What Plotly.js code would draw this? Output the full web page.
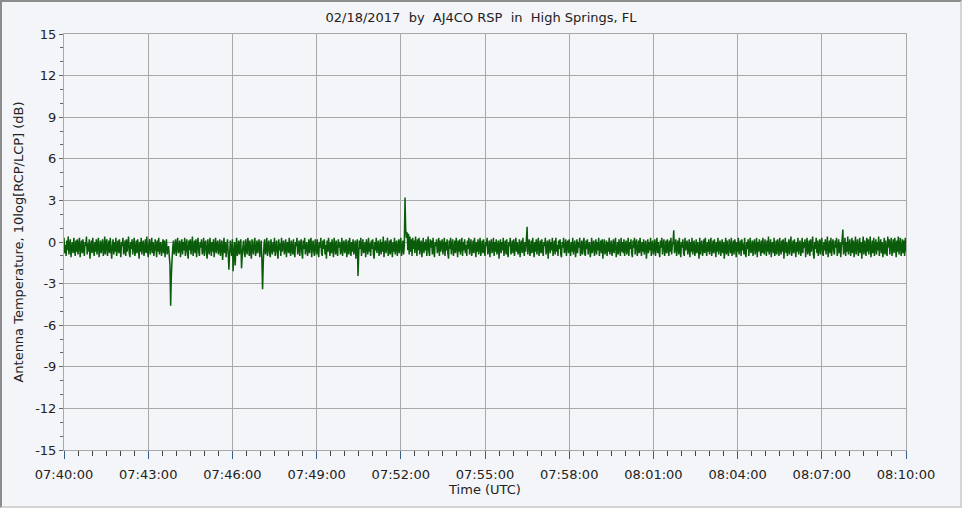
<!DOCTYPE html>
<html>
<head>
<meta charset="utf-8">
<script src="https://cdn.plot.ly/plotly-3.0.1.min.js"></script>
<style>
html,body{margin:0;padding:0;background:#f4f5f8;}
#wrap{position:relative;width:962px;height:508px;overflow:hidden;}
#chart{position:absolute;left:0;top:0;width:962px;height:508px;}
#frame{position:absolute;left:0;top:0;width:962px;height:508px;box-sizing:border-box;border-left:2px solid #8c8c8c;border-top:2px solid #8c8c8c;border-right:2px solid #d4d4d4;border-bottom:2px solid #d4d4d4;pointer-events:none;}
</style>
</head>
<body>
<div id="wrap"><div id="chart"></div><div id="frame"></div></div>
<script>
// Sampling: one reading every 1.5 seconds from 07:40:00 UTC
const sampleMs = 1500;

// Antenna temperature ratio, 10log[RCP/LCP] (dB)
const ratioDb = [
 0.3,-0.8,-0.2,-1.0,0.1,-0.6,0.4,-0.9,-0.3,0.2,-1.1,-0.4,0.0,-0.8,0.3,-0.5,-1.0,0.1,-0.7,0.2,
 -0.9,-0.2,0.3,-1.1,-0.4,0.1,-0.8,0.2,-0.6,-1.0,0.0,-0.3,0.4,-0.9,-0.1,-0.7,0.2,-1.2,-0.4,0.1,
 -0.8,0.3,-0.5,-1.0,0.0,-0.7,0.2,-0.9,-0.2,0.3,-1.1,-0.5,0.1,-0.8,-0.3,0.2,-1.0,-0.6,0.4,-0.9,
 -0.1,0.2,-1.0,-0.4,0.1,-0.8,0.3,-0.6,-1.2,-0.2,0.2,-0.9,0.0,-0.7,0.3,-1.0,-0.4,0.1,-0.8,0.2,
 -0.5,-1.1,0.0,-0.3,0.3,-0.9,-0.6,0.1,-1.0,0.2,-0.7,-0.2,0.4,-0.8,-1.1,0.0,-0.5,0.2,-0.9,-0.3,
 0.3,-1.0,-0.6,0.1,-0.8,0.2,-0.4,-1.2,0.0,-0.7,0.3,-0.9,-0.2,0.1,-1.0,-0.5,0.2,-0.8,0.4,-0.6,
 -1.1,-0.1,0.2,-0.9,-0.4,0.3,-0.8,0.0,-1.0,-0.6,0.2,-0.3,-1.1,0.1,-0.7,0.3,-0.9,-0.2,0.0,-1.0,
 -0.5,0.2,-0.8,0.1,-1.1,-0.3,0.2,-0.9,-0.6,-0.3,-1.0,-1.6,-4.6,-2.4,-1.3,-0.4,0.1,-0.9,-0.5,0.2,
 -1.0,-0.2,0.3,-0.8,-0.5,0.1,-1.1,-0.3,0.2,-0.9,0.0,-0.6,0.3,-1.0,-0.4,0.2,-0.8,-1.2,0.1,-0.6,
 0.2,-0.9,-0.3,0.4,-1.0,-0.5,0.1,-0.8,0.2,-1.1,-0.2,0.3,-0.7,-1.0,0.0,-0.4,0.2,-0.9,-0.6,0.3,
 -1.0,-0.1,0.1,-0.8,-1.2,0.2,-0.5,-0.9,0.3,-0.3,-1.0,0.0,-0.7,0.2,-1.1,-0.4,0.3,-0.8,-0.2,0.1,
 -0.9,-0.5,0.2,-1.0,-0.3,0.1,-1.3,-0.6,0.3,-0.8,0.0,-1.1,-0.4,0.2,-0.7,-2.0,-0.9,0.1,-0.5,-1.0,
 0.2,-2.1,-0.8,0.0,-1.7,-0.4,0.3,-1.0,-0.6,0.1,-0.9,-0.2,0.2,-1.9,-1.0,-0.3,0.1,-0.8,-1.1,0.2,
 -0.5,-0.9,0.3,-0.2,-1.0,0.1,-0.7,-1.2,0.2,-0.4,-0.9,0.0,0.3,-1.0,-0.6,0.1,-0.8,-0.3,0.2,-1.1,
 -0.4,0.1,-1.3,-3.4,-1.5,-0.2,0.2,-0.9,-0.6,0.3,-1.0,-0.3,0.1,-0.8,-1.1,0.2,-0.5,-0.9,0.0,-0.7,
 0.3,-1.0,-0.4,0.1,-0.8,-1.2,0.2,-0.6,-0.1,-1.0,0.3,-0.7,-0.3,0.1,-0.9,-0.5,0.2,-1.1,-0.2,0.0,
 -0.8,0.3,-0.6,-1.0,0.1,-0.4,-0.9,0.2,-0.7,-1.1,0.0,-0.3,0.3,-0.9,-0.5,0.1,-1.0,-0.2,0.2,-0.8,
 -1.2,0.1,-0.5,0.3,-0.9,-0.3,0.0,-1.0,-0.6,0.2,-0.8,-0.1,0.3,-1.1,-0.4,0.1,-0.7,-1.0,0.2,-0.3,
 -0.9,0.2,-0.6,-1.1,0.0,-0.4,0.3,-0.8,-1.0,0.1,-0.5,0.2,-0.9,-0.2,-1.2,0.1,-0.7,0.3,-0.4,-1.0,
 0.0,-0.8,0.2,-0.5,-1.1,0.3,-0.3,-0.9,0.1,-0.7,-1.0,0.2,-0.4,0.0,-0.9,-0.6,0.3,-1.0,-0.2,0.1,
 -0.8,-0.4,0.2,-1.1,-0.6,0.1,-0.9,0.3,-0.3,-1.0,0.0,-0.7,0.2,-0.9,-0.5,0.1,-1.2,-0.2,0.2,-2.45,
 -0.9,0.1,-0.5,0.3,-1.0,-0.3,0.2,-0.8,-0.6,0.0,-1.1,0.2,-0.4,-0.9,0.3,-0.7,-0.1,-1.0,0.1,-0.5,
 0.2,-0.9,-1.2,0.0,-0.6,0.3,-0.8,-0.3,0.1,-1.0,-0.5,0.2,-0.9,0.0,-0.7,0.4,-1.1,-0.4,0.1,-0.8,
 -0.2,0.3,-1.0,-0.6,0.1,-0.9,0.2,-0.4,-1.1,0.0,-0.7,0.3,-0.9,-0.3,0.1,-1.0,-0.5,0.2,-0.8,-0.1,
 0.3,-1.0,-0.5,0.1,-0.9,-0.3,3.2,0.9,0.3,0.7,-0.6,0.6,-0.9,0.4,-0.7,0.2,-1.0,0.3,-0.5,0.1,
 -0.8,0.4,-0.3,-1.0,0.2,-0.6,0.3,-0.9,-0.2,0.1,-1.1,-0.4,0.3,-0.8,0.0,-0.6,0.2,-1.0,-0.3,0.4,
 -0.7,-1.0,0.2,-0.4,0.1,-0.9,0.3,-0.6,-1.1,0.0,-0.3,0.2,-0.8,-0.5,0.3,-1.0,0.1,-0.7,-0.2,0.2,
 -0.9,-0.4,0.3,-1.0,0.0,-0.6,0.2,-0.8,-1.2,0.1,-0.5,0.3,-0.9,-0.2,0.2,-1.0,-0.6,0.1,-0.8,0.3,
 -0.3,-1.1,0.1,-0.7,0.2,-0.9,-0.4,0.3,-1.0,0.0,-0.6,0.2,-0.8,-0.2,-1.0,0.1,-0.5,0.3,-0.9,-0.3,
 0.2,-1.0,-0.6,0.1,-0.8,0.3,-0.4,-1.1,0.0,-0.7,0.2,-0.9,-0.3,0.3,-1.0,-0.5,0.1,-0.8,0.2,-0.6,
 -1.0,0.0,-0.3,0.3,-0.9,-0.6,0.1,-1.1,-0.2,0.2,-0.8,-0.5,0.3,-1.0,0.0,-0.7,0.2,-0.9,-0.4,0.1,
 -1.2,-0.3,0.2,-0.8,0.0,-0.6,0.3,-1.0,-0.4,0.1,-0.9,0.2,-0.7,-1.1,0.0,-0.3,0.3,-0.9,-0.5,0.1,
 -0.8,0.2,-1.0,-0.4,0.3,-0.7,0.0,-0.9,-0.6,0.2,-1.1,-0.2,0.1,-0.8,0.3,-0.5,-1.0,0.0,-0.7,0.2,
 1.1,-0.9,-0.3,0.2,-1.0,-0.6,0.1,-0.8,0.3,-0.4,-1.1,0.0,-0.7,0.2,-0.9,-0.2,0.3,-1.0,-0.5,0.1,
 -0.8,0.2,-0.6,-1.0,0.0,-0.3,0.3,-0.9,-0.5,0.1,-1.2,-0.2,0.2,-0.8,0.0,-0.6,0.3,-1.0,-0.4,0.1,
 -0.9,0.3,-0.7,-0.2,-1.0,0.1,-0.5,0.2,-0.9,-1.1,0.0,-0.4,0.3,-0.8,-0.6,0.2,-1.0,-0.1,0.1,-0.8,
 0.2,-0.5,-1.0,0.0,-0.7,0.3,-0.9,-0.3,0.1,-1.1,-0.6,0.2,-0.8,0.0,-0.4,0.3,-1.0,-0.6,0.1,-0.9,
 -0.2,0.3,-0.8,-1.0,0.1,-0.5,0.2,-0.9,-0.3,0.0,-1.1,-0.7,0.3,-0.8,-0.2,0.1,-1.0,-0.5,0.2,-0.9,
 0.0,-0.6,0.3,-1.0,-0.4,0.1,-0.8,0.2,-1.2,-0.3,0.2,-0.9,-0.6,0.1,-1.0,0.0,-0.7,0.3,-0.9,-0.4,
 0.1,-1.0,-0.5,0.2,-0.8,-0.2,0.3,-1.1,-0.6,0.0,-0.9,0.2,-0.4,-1.0,0.3,-0.7,0.0,-0.8,0.2,-1.0,
 -0.3,0.1,-0.9,-0.6,0.3,-1.0,0.0,-0.5,0.2,-0.8,-1.1,0.1,-0.4,0.3,-0.9,-0.2,0.2,-1.0,-0.6,0.1,
 -0.8,0.3,-0.4,-1.0,0.0,-0.7,0.2,-0.9,-0.3,0.1,-1.2,-0.5,0.2,-0.8,0.0,-0.6,0.3,-1.0,-0.2,0.1,
 -0.9,-0.5,0.2,-1.0,-0.3,0.3,-0.8,0.0,-0.6,-1.1,0.1,-0.4,0.3,-0.9,-0.2,0.2,-1.0,-0.6,0.1,-0.8,
 0.2,-0.4,-1.0,0.1,-0.7,0.3,-0.9,-0.2,0.0,0.85,-0.8,-0.5,0.2,-1.0,-0.3,0.1,-0.9,0.3,-0.6,-1.1,
 0.0,-0.4,0.2,-0.8,-1.0,0.3,-0.6,-0.2,0.1,-0.9,-0.5,0.2,-1.1,0.0,-0.7,0.3,-0.9,-0.3,0.1,-1.0,
 -0.6,0.2,-0.8,0.0,-0.4,-1.2,0.3,-0.9,-0.2,0.1,-1.0,-0.6,0.2,-0.8,0.3,-0.5,-1.0,0.0,-0.7,0.2,
 -0.9,-0.3,0.3,-1.0,-0.6,0.1,-0.8,0.2,-0.4,-1.1,0.0,-0.7,0.3,-0.9,-0.2,0.1,-1.0,-0.5,0.2,-0.8,
 0.0,-1.2,-0.4,0.3,-0.9,0.1,-0.6,-1.0,0.2,-0.3,-0.8,0.3,-1.0,-0.5,0.1,-0.9,0.2,-0.2,-1.1,0.0,
 -0.7,0.3,-0.9,-0.4,0.1,-1.0,0.2,-0.6,-0.1,-0.9,0.3,-0.8,-1.1,0.0,-0.5,0.2,-1.0,-0.3,0.3,-0.8,
 -0.6,0.1,-1.0,-0.2,0.2,-0.9,-0.5,0.3,-1.1,0.0,-0.7,0.2,-0.4,-1.0,0.1,-0.8,0.3,-0.6,-0.9,0.2,
 -0.3,-1.0,0.1,-0.7,0.4,-0.9,-0.4,0.2,-1.1,-0.2,0.0,-0.8,0.3,-1.0,-0.6,0.1,-0.9,0.2,-0.3,-1.0,
 0.3,-0.5,-0.9,0.1,-0.7,0.2,-1.2,-0.3,0.3,-0.8,0.0,-1.0,-0.5,0.2,-0.9,-0.2,0.4,-1.0,-0.6,0.1,
 -0.8,0.2,-0.4,-1.1,0.0,-0.7,0.3,-0.9,-0.2,0.1,-1.0,-0.6,0.3,-0.8,0.0,-0.4,0.2,-1.1,-0.3,0.3,
 -0.9,-0.5,0.1,-1.0,0.2,-0.7,-0.2,0.4,-0.9,-1.2,0.0,-0.5,0.3,-0.8,0.1,-1.0,-0.4,0.2,-0.9,-0.1,
 0.3,-0.8,-1.0,0.0,-0.6,0.2,-0.9,-0.3,0.4,-1.1,-0.5,0.1,-0.8,0.3,-1.0,-0.2,0.2,-0.7,-0.9,0.1,
 -0.4,0.3,-1.0,-0.6,0.2,-0.8,0.0,-1.1,-0.3,0.2,0.9,-0.9,-0.5,0.3,-1.0,0.0,-0.7,0.4,-0.9,-0.2,
 0.2,-1.0,-0.6,0.3,-0.8,0.1,-1.1,-0.4,0.4,-0.9,-0.2,0.2,-1.0,-0.6,0.3,-0.8,0.0,-1.2,-0.3,0.4,
 -0.9,0.1,-0.5,-1.0,0.3,-0.7,0.2,-0.9,-0.2,0.4,-1.1,-0.6,0.1,-0.8,0.3,-1.0,-0.4,0.2,-0.9,0.0,
 -0.6,0.4,-1.0,-0.3,0.2,-0.8,0.0,-1.1,-0.5,0.3,-0.9,0.1,-0.7,-1.0,0.4,-0.4,0.2,-0.9,-0.2,0.3,
 -1.0,-0.5,0.2,-0.8,0.3,-0.3,-1.1,0.1,-0.7,0.4,-0.9,-0.2,0.3,-1.0,-0.6,0.2,-0.8,0.1,-1.0,0.3,
 -0.7
];

const yTickVals = [-15,-12,-9,-6,-3,0,3,6,9,12,15];
const yTickText = ["-15","-12","-9","-6","-3","0","3","6","9","12","15"];
const xRange = ["2017-02-18 07:40:00","2017-02-18 08:10:00"];

function pad(n){return (n<10?"0":"")+n;}
const t0 = Date.UTC(2017,1,18,7,40,0);
const times = ratioDb.map((v,i)=>{
  const d = new Date(t0 + i*sampleMs);
  return "2017-02-18 "+pad(d.getUTCHours())+":"+pad(d.getUTCMinutes())+":"+pad(d.getUTCSeconds())+"."+String(d.getUTCMilliseconds()).padStart(3,"0");
});

const NB = "\u00a0";
const titleText = "02/18/2017"+NB+NB+"by"+NB+NB+"AJ4CO RSP"+NB+NB+"in"+NB+NB+"High Springs, FL";

const FAM = "DejaVu Sans, Verdana, sans-serif";
const font = {family:FAM, size:13, color:"#222"};

Plotly.newPlot("chart",[{
  type:"scatter", mode:"lines",
  x:times, y:ratioDb,
  line:{color:"#0a5c0a", width:1.5, simplify:false},
  hoverinfo:"skip"
}],{
  width:962, height:508,
  margin:{l:64, r:56, t:34, b:58},
  paper_bgcolor:"#f4f5f8", plot_bgcolor:"#f4f5f8",
  font:font,
  showlegend:false,
  title:{text:titleText, font:{family:FAM,size:13,color:"#222"}, x:0.5, xanchor:"center", y:0.965, yanchor:"middle"},
  xaxis:{
    type:"date", range:xRange, tickformat:"%H:%M:%S",
    tick0:"2017-02-18 07:40:00", dtick:180000,
    showgrid:true, gridcolor:"#a9a9a9", gridwidth:1,
    showline:true, linecolor:"#a9a9a9", mirror:true,
    ticks:"outside", ticklen:8, tickcolor:"#3b5b8b", tickwidth:1,
    ticklabelstandoff:4,
    minor:{dtick:30000, ticks:"outside", ticklen:5, tickcolor:"#444", showgrid:false},
    zeroline:false,
    tickfont:{family:FAM,size:13,color:"#222"},
    title:{text:"Time (UTC)", font:{family:FAM,size:13,color:"#222"}, standoff:4}
  },
  yaxis:{
    range:[-15,15], tickvals:yTickVals, ticktext:yTickText,
    showgrid:true, gridcolor:"#a9a9a9", gridwidth:1,
    showline:true, linecolor:"#a9a9a9", mirror:true,
    ticks:"outside", ticklen:4, tickcolor:"#666",
    minor:{dtick:1, tick0:0, ticks:"outside", ticklen:3, tickcolor:"#666", showgrid:false},
    zeroline:false,
    tickfont:{family:FAM,size:13,color:"#222"},
    title:{text:"Antenna Temperature, 10log[RCP/LCP] (dB)", font:{family:FAM,size:13,color:"#222"}, standoff:8}
  }
},{displayModeBar:false, staticPlot:true});
</script>
</body>
</html>
